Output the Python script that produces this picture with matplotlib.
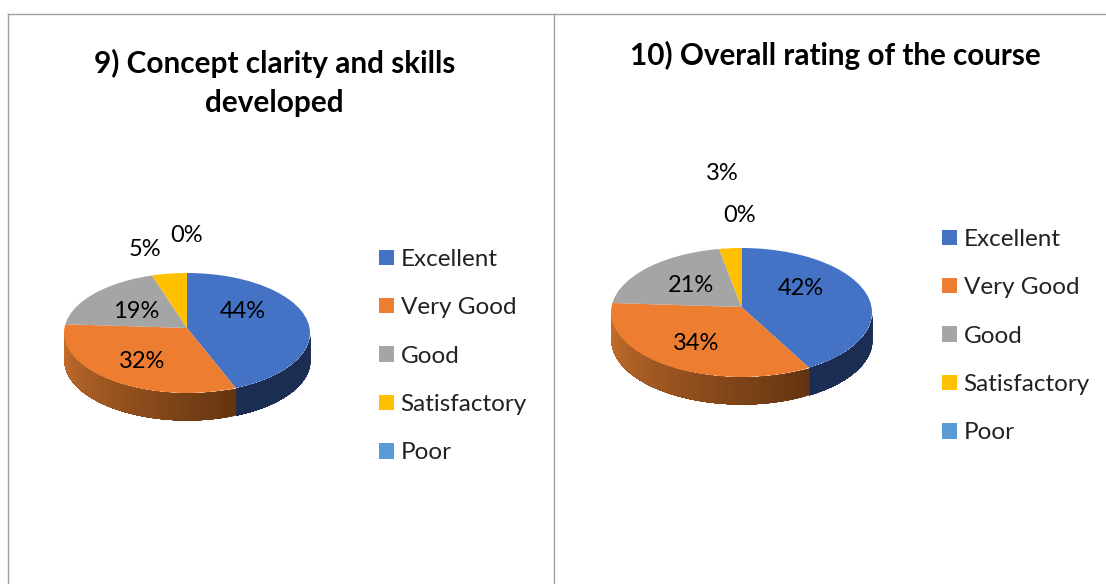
import matplotlib
matplotlib.use("Agg")
import matplotlib.pyplot as plt
import numpy as np
from matplotlib.lines import Line2D
from matplotlib.patches import Circle, Patch

W, H = 1106, 584
plt.rcParams['font.family'] = ['Lato', 'DejaVu Sans']

categories = ["Excellent", "Very Good", "Good", "Satisfactory", "Poor"]
colors = ["#4472C4", "#ED7D31", "#A5A5A5", "#FFC000", "#5B9BD5"]

values_left = [44, 32, 19, 5, 0]
values_right = [42, 34, 21, 3, 0]

title_left = "9) Concept clarity and skills\ndeveloped"
title_right = "10) Overall rating of the course"

# label centres in pixels
labels_left = [(243, 311), (142, 361), (136, 311), (145, 250), (187, 235)]
labels_right = [(801, 289), (696, 343), (691, 285), (722, 173), (740, 215)]


def side_color(i, t):
    # t goes 0..1 across the visible wall of the slice
    if i == 0:
        return "#1B2D52"
    if i == 1:
        a = np.array([0x63, 0x34, 0x10]) / 255
        b = np.array([0xC8, 0x70, 0x2E]) / 255
        return a + (b - a) * t
    return "#777777"


def rim_angle(deg, k):
    # apex sits above the ellipse centre (perspective), find where a slice edge meets the rim
    th = np.radians(deg)
    sx, sy = np.sin(th), np.cos(th)
    t = -k * sy + np.sqrt((k * sy) ** 2 - k ** 2 + 1)
    a = np.degrees(np.arctan2(t * sx, k + t * sy))
    return a % 360 if deg > 0 else 0


def pie3d(fig, values, cx, cy, rx, ry, depth, apex):
    pad = 1.05
    d = depth / ry
    k = apex / ry
    left = cx - rx * pad
    top = cy - ry * pad
    w = 2 * rx * pad
    h = ry * pad * 2 + depth
    ax = fig.add_axes([left / W, 1 - (top + h) / H, w / W, h / H])
    wedges, _ = ax.pie(values, colors=colors, startangle=90, counterclock=False,
                       center=(0, k), radius=1.4,
                       wedgeprops={"linewidth": 0}, normalize=True)
    ax.set_aspect("auto")
    ax.set_xlim(-pad, pad)
    ax.set_ylim(-pad - d, pad)
    rim = Circle((0, 0), 1, transform=ax.transData)
    for wedge in wedges:
        wedge.set_clip_on(True)  # pie turns clipping off
        wedge.set_clip_path(rim)

    # side wall, only the front half shows
    total = sum(values)
    start = 0
    for i, v in enumerate(values):
        a0 = max(rim_angle(start / total * 360, k), 90)
        a1 = min(rim_angle((start + v) / total * 360, k), 270)
        start += v
        if a1 <= a0:
            continue
        edges = np.linspace(a0, a1, 80)
        # each strip runs on to the slice end, the next one paints over it, no seams
        for j in range(len(edges) - 1):
            th = np.radians(np.linspace(edges[j], a1, 80))
            x = np.sin(th)
            y = np.cos(th)
            c = side_color(i, j / (len(edges) - 2))
            ax.fill_between(x, y, y - d, color=c, linewidth=0, zorder=i * 0.01)
    return ax


fig = plt.figure(figsize=(W / 100, H / 100), dpi=100)

pie3d(fig, values_left, 187, 333, 123, 60, 27, 5)
pie3d(fig, values_right, 741.5, 312.5, 130.5, 64.5, 27, 5.5)

# frame lines
border = "#A0A0A0"
fig.add_artist(Line2D([8 / W, 1], [1 - 13.5 / H] * 2, color=border, lw=1))
fig.add_artist(Line2D([8 / W] * 2, [0, 1 - 13.5 / H], color=border, lw=1))
fig.add_artist(Line2D([554 / W] * 2, [0, 1 - 13.5 / H], color=border, lw=1))

fig.text(274.5 / W, 1 - 83 / H, title_left, ha="center", va="center",
         fontsize=21.4, fontweight="bold", linespacing=1.47, color="black")
fig.text(835.5 / W, 1 - 55 / H, title_right, ha="center", va="center",
         fontsize=21.3, fontweight="bold", color="black")

for values, pos in [(values_left, labels_left), (values_right, labels_right)]:
    for v, (x, y) in zip(values, pos):
        fig.text(x / W, 1 - y / H, f"{v}%", ha="center", va="center",
                 fontsize=17, color="black")

handles = [Patch(facecolor=c, linewidth=0) for c in colors]
for x, y in [(379, 249), (942, 229)]:
    fig.legend(handles, categories, loc="upper left",
               bbox_to_anchor=(x / W, 1 - y / H), frameon=False,
               fontsize=17.5, borderpad=0, borderaxespad=0,
               handlelength=0.6, handleheight=0.6, handletextpad=0.29,
               labelspacing=1.125, labelcolor="#222222")

fig.savefig("out.png", dpi=100)
